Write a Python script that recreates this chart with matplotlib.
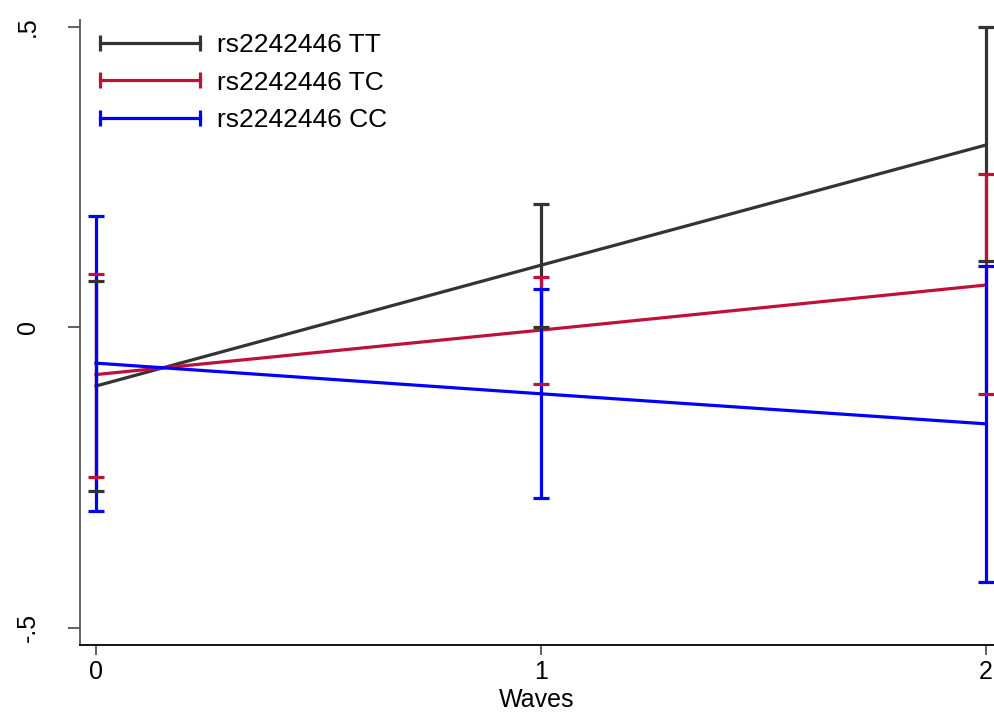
import matplotlib
matplotlib.use("Agg")
import matplotlib.pyplot as plt
from matplotlib.lines import Line2D

plt.rcParams["font.family"] = ["Liberation Sans", "DejaVu Sans"]

waves = [0, 1, 2]
labels = ["rs2242446 TT", "rs2242446 TC", "rs2242446 CC"]
colors = ["#333333", "#c0103a", "#0000ff"]

# predicted margins and 95% CI
means = [
    [-0.098, 0.103, 0.303],
    [-0.079, -0.005, 0.070],
    [-0.060, -0.111, -0.161],
]
lower = [
    [-0.273, 0.000, 0.110],
    [-0.249, -0.094, -0.111],
    [-0.306, -0.285, -0.424],
]
upper = [
    [0.076, 0.205, 0.500],
    [0.089, 0.084, 0.255],
    [0.185, 0.063, 0.101],
]

y_ticks = [-0.5, 0, 0.5]
y_tick_labels = ["-.5", "0", ".5"]


def main():
    fig = plt.figure(figsize=(9.94, 7.15), dpi=100)
    ax = fig.add_axes([80 / 994, 1 - 645 / 715, 1 - 80 / 994, (645 - 20) / 715])

    handles = []
    for m, lo, hi, c, lab in zip(means, lower, upper, colors, labels):
        ax.vlines(waves, lo, hi, color=c, lw=2.3, zorder=2)
        ax.plot(waves, lo, ls="none", marker="_", ms=12, mew=2.3, color=c, zorder=3)
        ax.plot(waves, hi, ls="none", marker="_", ms=12, mew=2.3, color=c, zorder=3)
        ax.plot(waves, m, color=c, lw=2.3, zorder=2)
        handles.append(Line2D([], [], color=c, lw=2.3, marker="|", ms=11, mew=2.3, label=lab))

    ax.set_xlim(-0.036, 2.018)
    ax.set_ylim(-0.529, 0.511)
    ax.set_xticks(waves)
    ax.set_xticklabels([str(w) for w in waves])
    ax.set_yticks(y_ticks)
    ax.set_yticklabels(y_tick_labels, rotation=90, va="center")
    ax.set_xlabel("Waves", fontsize=18, labelpad=3)

    for side in ["top", "right"]:
        ax.spines[side].set_visible(False)
    ax.spines["left"].set_color("#555555")
    ax.spines["left"].set_linewidth(1.3)
    ax.spines["bottom"].set_linewidth(1.3)
    ax.tick_params(axis="y", length=8.5, width=1.3, color="#555555", labelsize=18, pad=20.5)
    ax.tick_params(axis="x", length=7.5, width=1.3, color="#555555", labelsize=18, pad=3)

    ax.legend(handles=handles, loc="upper left", bbox_to_anchor=(92 / 994, 1 - 33 / 715),
              bbox_transform=fig.transFigure, frameon=False, fontsize=19,
              numpoints=2, handlelength=4.4, handletextpad=0.35, labelspacing=0.52,
              borderpad=0, borderaxespad=0)

    fig.savefig("out.png", dpi=100)


if __name__ == "__main__":
    main()
